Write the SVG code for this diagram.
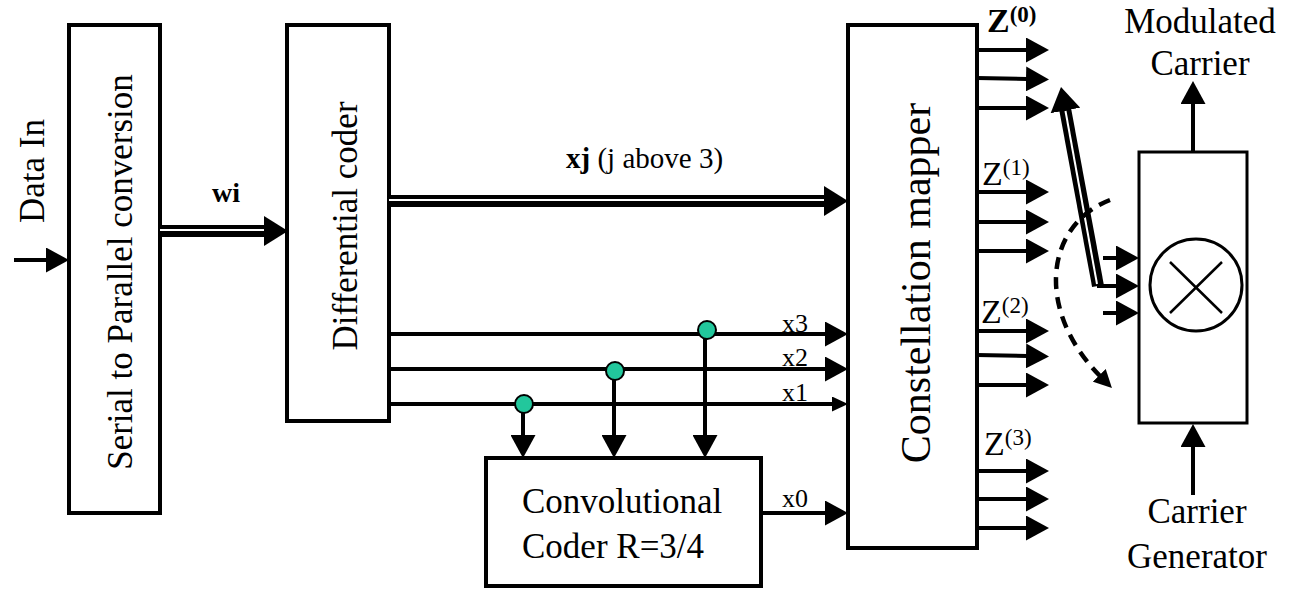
<svg xmlns="http://www.w3.org/2000/svg" width="1295" height="601" viewBox="0 0 1295 601">
<defs>
<style>
.box{fill:#fff;stroke:#000;stroke-width:4}
.box3{fill:#fff;stroke:#000;stroke-width:3}
.ln{fill:none;stroke:#000;stroke-width:4}
.dbl{fill:none;stroke:#000;stroke-width:12}
.dblw{fill:none;stroke:#fff;stroke-width:2}
.dash{fill:none;stroke:#000;stroke-width:4.5;stroke-dasharray:12 8}
.t{font-family:"Liberation Serif","Times New Roman",serif;fill:#000}
.dot{fill:#22c79c;stroke:#000;stroke-width:2}
.sup{font-size:23px}
</style>
<marker id="ah" markerUnits="userSpaceOnUse" markerWidth="23" markerHeight="25" refX="1" refY="12.5" orient="auto"><path d="M0,0 L23,12.5 L0,25 z"/></marker>
<marker id="ahs" markerUnits="userSpaceOnUse" markerWidth="16" markerHeight="15" refX="1" refY="7.5" orient="auto"><path d="M0,0 L16,7.5 L0,15 z"/></marker>
<marker id="ahd" markerUnits="userSpaceOnUse" markerWidth="24" markerHeight="30" refX="1" refY="15" orient="auto"><path d="M0,0 L24,15 L0,30 z"/></marker>
<marker id="ahx" markerUnits="userSpaceOnUse" markerWidth="18" markerHeight="18" refX="1" refY="9" orient="auto"><path d="M0,0 L18,9 L0,18 z"/></marker>
</defs>
<rect width="1295" height="601" fill="#fff"/>

<g id="serial-to-parallel">
<rect class="box" x="69" y="25" width="91" height="488"/>
<text class="t" font-size="35" text-anchor="middle" transform="translate(132,272) rotate(-90)">Serial to Parallel conversion</text>
</g>

<g id="differential-coder">
<rect class="box" x="287" y="25" width="102" height="396"/>
<text class="t" font-size="35" text-anchor="middle" transform="translate(357,226) rotate(-90)">Differential coder</text>
</g>

<g id="constellation-mapper">
<rect class="box" x="848" y="25" width="129" height="523"/>
<text class="t" font-size="42" text-anchor="middle" transform="translate(930,283) rotate(-90)">Constellation mapper</text>
</g>

<g id="convolutional-coder">
<rect class="box" x="486" y="458" width="275" height="128"/>
<text class="t" font-size="35" x="522" y="513">Convolutional</text>
<text class="t" font-size="35" x="522" y="558">Coder R=3/4</text>
</g>

<g id="multiplier">
<rect class="box3" x="1139" y="152" width="108" height="271"/>
<circle cx="1196" cy="285" r="46" fill="none" stroke="#000" stroke-width="3"/>
<path d="M1170,262 L1222,313 M1222,262 L1170,313" fill="none" stroke="#000" stroke-width="2.5"/>
</g>

<g id="data-in">
<text class="t" font-size="35" text-anchor="middle" transform="translate(44,171) rotate(-90)">Data In</text>
</g>

<g id="modulated-carrier">
<text class="t" font-size="35" text-anchor="middle" x="1200" y="33">Modulated</text>
<text class="t" font-size="35" text-anchor="middle" x="1200" y="75">Carrier</text>
</g>

<g id="carrier-generator">
<text class="t" font-size="35" text-anchor="middle" x="1197" y="523">Carrier</text>
<text class="t" font-size="35" text-anchor="middle" x="1197" y="568">Generator</text>
</g>

<g id="connectors">
<line class="ln" x1="14" y1="260" x2="47" y2="260" marker-end="url(#ah)"/>
<line class="dbl" x1="160" y1="231" x2="265" y2="231" marker-end="url(#ahd)"/>
<line class="dblw" x1="160" y1="230" x2="264" y2="230"/>
<text class="t" font-size="28" font-weight="bold" x="212" y="202">wi</text>
<line class="dbl" x1="389" y1="201" x2="825" y2="201" marker-end="url(#ahd)"/>
<line class="dblw" x1="389" y1="200" x2="824" y2="200"/>
<text class="t" font-size="29" x="566" y="168"><tspan font-weight="bold">xj</tspan> (j above 3)</text>
<line class="ln" x1="389" y1="334" x2="826" y2="334" marker-end="url(#ah)"/>
<line class="ln" x1="389" y1="369" x2="826" y2="369" marker-end="url(#ah)"/>
<line class="ln" x1="389" y1="404" x2="833" y2="404" marker-end="url(#ahs)"/>
<text class="t" font-size="26" x="782" y="332">x3</text>
<text class="t" font-size="26" x="782" y="366">x2</text>
<text class="t" font-size="26" x="782" y="401">x1</text>
<line class="ln" x1="705" y1="330" x2="705" y2="436" marker-end="url(#ah)"/>
<line class="ln" x1="614" y1="371" x2="614" y2="436" marker-end="url(#ah)"/>
<line class="ln" x1="523" y1="404" x2="523" y2="436" marker-end="url(#ah)"/>
<circle class="dot" cx="707" cy="330" r="9"/>
<circle class="dot" cx="615" cy="371" r="9"/>
<circle class="dot" cx="524" cy="404" r="9"/>
<line class="ln" x1="761" y1="513" x2="826" y2="513" marker-end="url(#ah)"/>
<text class="t" font-size="26" x="782" y="507">x0</text>
<line class="ln" x1="977" y1="50" x2="1027" y2="50" marker-end="url(#ah)"/>
<line class="ln" x1="977" y1="78" x2="1027" y2="79" marker-end="url(#ah)"/>
<line class="ln" x1="977" y1="108" x2="1027" y2="108" marker-end="url(#ah)"/>
<line class="ln" x1="977" y1="192" x2="1027" y2="192" marker-end="url(#ah)"/>
<line class="ln" x1="977" y1="222" x2="1027" y2="222" marker-end="url(#ah)"/>
<line class="ln" x1="977" y1="251" x2="1027" y2="251" marker-end="url(#ah)"/>
<line class="ln" x1="977" y1="331" x2="1027" y2="331" marker-end="url(#ah)"/>
<line class="ln" x1="977" y1="355" x2="1027" y2="356" marker-end="url(#ah)"/>
<line class="ln" x1="977" y1="385" x2="1027" y2="385" marker-end="url(#ah)"/>
<line class="ln" x1="977" y1="471" x2="1027" y2="471" marker-end="url(#ah)"/>
<line class="ln" x1="977" y1="499" x2="1027" y2="499" marker-end="url(#ah)"/>
<line class="ln" x1="977" y1="528" x2="1027" y2="528" marker-end="url(#ah)"/>
<text class="t" font-size="34" font-weight="bold" x="987" y="32">Z<tspan class="sup" dy="-10">(0)</tspan></text>
<text class="t" font-size="34" x="982" y="185">Z<tspan class="sup" dy="-10">(1)</tspan></text>
<text class="t" font-size="34" x="981" y="323">Z<tspan class="sup" dy="-10">(2)</tspan></text>
<text class="t" font-size="34" x="984" y="455">Z<tspan class="sup" dy="-10">(3)</tspan></text>
<line class="ln" x1="1103" y1="258" x2="1117" y2="258" marker-end="url(#ah)"/>
<line class="ln" x1="1097" y1="286" x2="1117" y2="286" marker-end="url(#ah)"/>
<line class="ln" x1="1103" y1="313" x2="1117" y2="313" marker-end="url(#ah)"/>
<line class="dbl" x1="1098" y1="286" x2="1065.2" y2="109.5" stroke-width="10" marker-end="url(#ahd)"/>
<line class="dblw" x1="1097" y1="284" x2="1065.5" y2="111"/>
<path class="dash" d="M1110,200 C1045,225 1035,310 1100,376" marker-end="url(#ahx)"/>
<line class="ln" x1="1193" y1="152" x2="1193" y2="103" marker-end="url(#ah)"/>
<line class="ln" x1="1193" y1="495" x2="1193" y2="446" marker-end="url(#ah)"/>
</g>
</svg>
